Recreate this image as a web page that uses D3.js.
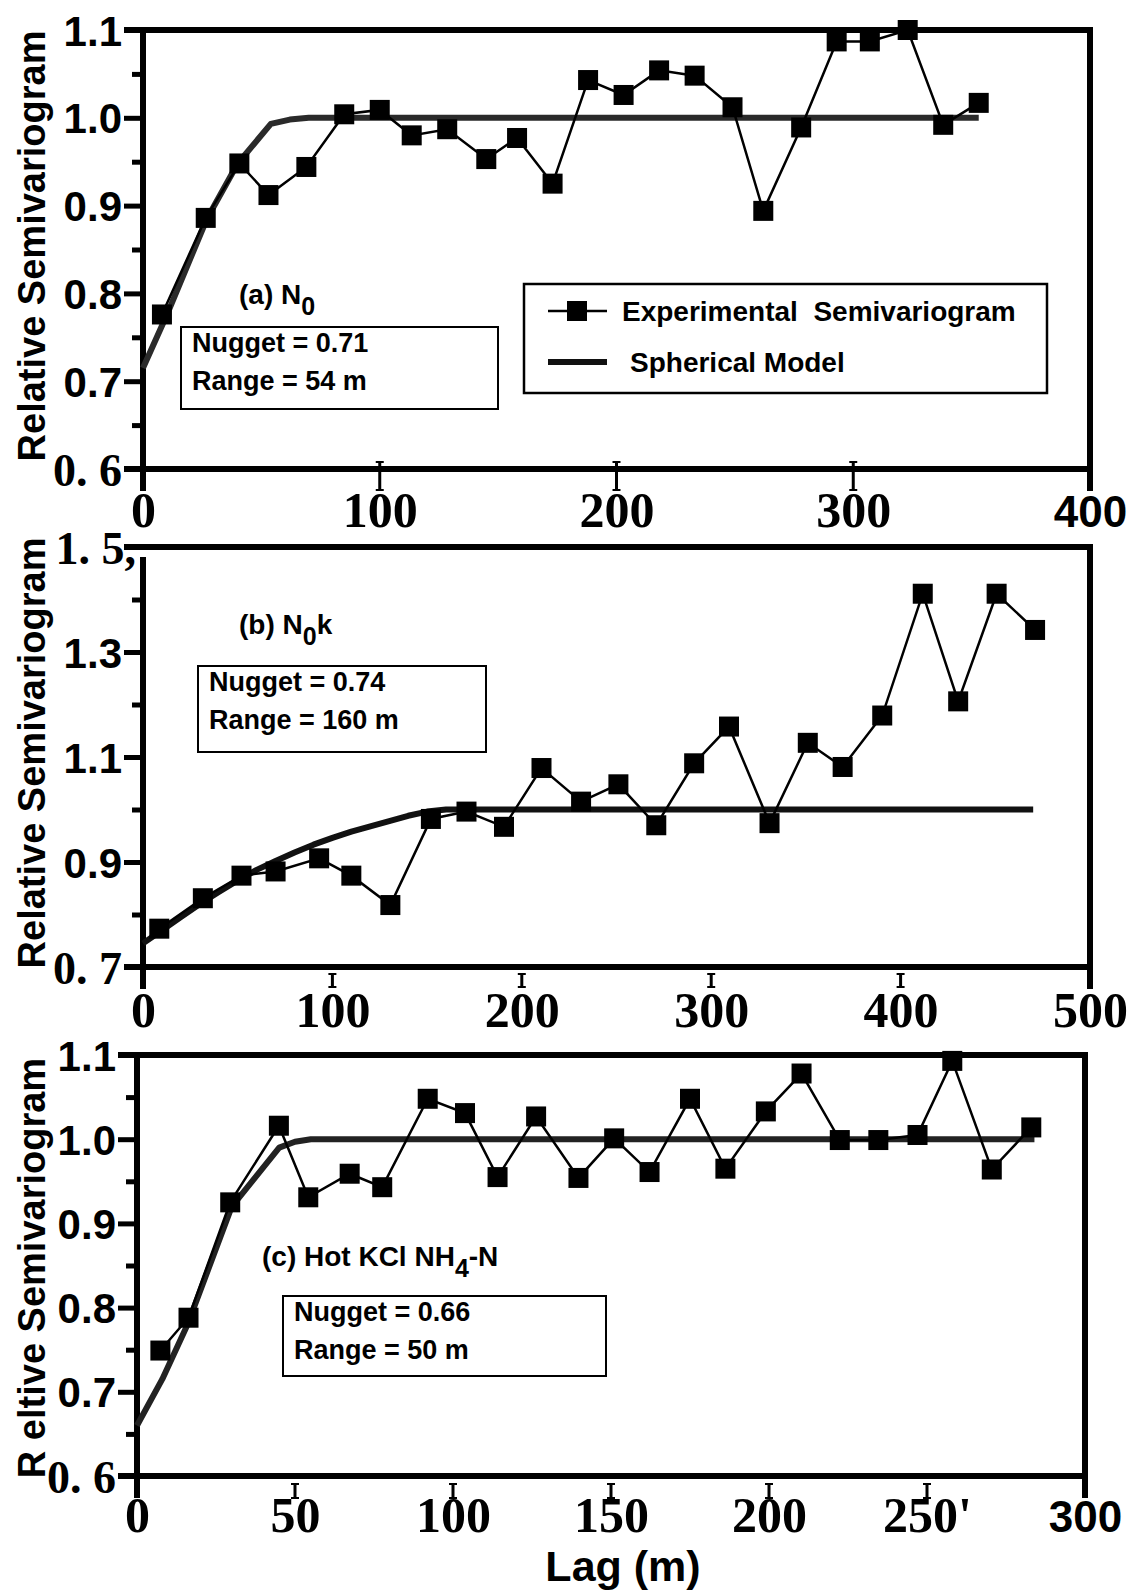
<!doctype html>
<html lang="en">
<head>
<meta charset="UTF-8">
<title>Relative semivariograms</title>
<script src="https://cdn.jsdelivr.net/npm/d3@7"></script>
<style>
    body { margin: 0; background: #fff; }
    svg { display: block; }
    .sans { font-family: "Liberation Sans", Arial, sans-serif; font-weight: bold; }
    .serif { font-family: "Liberation Serif", "Times New Roman", serif; font-weight: bold; }
</style>
</head>
<body>
<script>
var W = 1132, H = 1590;

// (a) N0
var aLag = [8, 26.5, 40.7, 53, 69, 85, 100, 113.5, 128.5, 145, 158, 173, 188, 203, 218, 233, 249, 262, 278, 293, 307, 323, 338, 353];
var aGamma = [0.776, 0.886, 0.948, 0.912, 0.944, 1.004, 1.009, 0.980, 0.987, 0.953, 0.977, 0.925, 1.043, 1.026, 1.054, 1.048, 1.012, 0.894, 0.989, 1.087, 1.087, 1.100, 0.992, 1.017];
var aModelLag = [0, 10, 27, 40, 54, 62, 70, 353];
var aModelGamma = [0.715, 0.775, 0.885, 0.948, 0.993, 0.998, 1.0, 1.0];
var aXTicks = [0, 100, 200, 300, 400];
var aXLabels = ["0", "100", "200", "300", "400"];
var aYTicks = [0.6, 0.7, 0.8, 0.9, 1.0, 1.1];
var aYLabels = ["0. 6", "0.7", "0.8", "0.9", "1.0", "1.1"];
var aYMinor = [0.65, 0.75, 0.85, 0.95, 1.05];

// (b) N0k
var bLag = [8.6, 31.6, 52, 70, 93, 110, 130.6, 152, 170.8, 190.6, 210.4, 231.3, 251, 271, 291, 309.4, 330.8, 351, 369.4, 390.3, 411.7, 430.4, 450.7, 471];
var bGamma = [0.773, 0.831, 0.874, 0.882, 0.907, 0.874, 0.818, 0.982, 0.996, 0.967, 1.079, 1.015, 1.048, 0.970, 1.088, 1.158, 0.974, 1.127, 1.081, 1.179, 1.411, 1.206, 1.411, 1.342];
var bModelLag = [0, 10, 20, 30, 40, 50, 60, 70, 80, 90, 100, 110, 120, 130, 140, 150, 160, 470];
var bModelGamma = [0.745, 0.770, 0.795, 0.820, 0.843, 0.865, 0.885, 0.902, 0.918, 0.933, 0.946, 0.958, 0.968, 0.978, 0.988, 0.996, 1.0, 1.0];
var bXTicks = [0, 100, 200, 300, 400, 500];
var bXLabels = ["0", "100", "200", "300", "400", "500"];
var bYTicks = [0.7, 0.9, 1.1, 1.3, 1.5];
var bYLabels = ["0. 7", "0.9", "1.1", "1.3", "1. 5,"];
var bYMinor = [0.8, 1.0, 1.2, 1.4];

// (c) Hot KCl NH4-N
var cLag = [7.4, 16.3, 29.5, 44.9, 54.2, 67.3, 77.6, 92, 103.8, 114.1, 126.3, 139.7, 151, 162.2, 175, 186.2, 199, 210.3, 222.4, 234.6, 247, 258, 270.5, 283];
var cGamma = [0.749, 0.788, 0.925, 1.016, 0.931, 0.959, 0.943, 1.048, 1.031, 0.955, 1.027, 0.954, 1.001, 0.961, 1.048, 0.965, 1.033, 1.078, 0.999, 0.999, 1.005, 1.093, 0.964, 1.014];
var cModelLag = [0, 8, 16, 30, 45, 50, 55, 284];
var cModelGamma = [0.66, 0.715, 0.78, 0.92, 0.99, 0.997, 1.0, 1.0];
var cXTicks = [0, 50, 100, 150, 200, 250, 300];
var cXLabels = ["0", "50", "100", "150", "200", "250'", "300"];
var cYTicks = [0.6, 0.7, 0.8, 0.9, 1.0, 1.1];
var cYLabels = ["0. 6", "0.7", "0.8", "0.9", "1.0", "1.1"];
var cYMinor = [0.65, 0.75, 0.85, 0.95, 1.05];

var svg = d3.select("body").append("svg")
    .attr("width", W)
    .attr("height", H);

function drawPanel(p) {
    var x = d3.scaleLinear().domain(p.xDom).range([p.left, p.right]);
    var y = d3.scaleLinear().domain(p.yDom).range([p.bottom, p.top]);
    var g = svg.append("g");

    // frame
    var fw = 6;
    g.append("line").attr("x1", p.left - 19).attr("x2", p.right + 3).attr("y1", p.top).attr("y2", p.top);
    g.append("line").attr("x1", p.left - 19).attr("x2", p.right).attr("y1", p.bottom).attr("y2", p.bottom);
    g.append("line").attr("x1", p.left).attr("x2", p.left).attr("y1", p.top + p.leftGap).attr("y2", p.bottom + 22);
    g.append("line").attr("x1", p.right).attr("x2", p.right).attr("y1", p.top).attr("y2", p.bottom + 22);
    g.selectAll("line").attr("stroke", "#000").attr("stroke-width", fw);

    // y ticks
    var yAxis = d3.axisLeft(y).tickValues(p.yTicks).tickSize(19).tickPadding(2)
        .tickFormat(function (d, i) { return p.yLabels[i]; });
    var ya = g.append("g").attr("transform", "translate(" + p.left + ",0)").call(yAxis);
    ya.select(".domain").remove();
    ya.selectAll(".tick line").attr("stroke", "#000").attr("stroke-width", 5);
    ya.selectAll(".tick text")
        .attr("class", function (d, i) { return p.yLabels[i].indexOf(" ") >= 0 ? "serif" : "sans"; })
        .attr("font-size", function (d, i) { return p.yLabels[i].indexOf(" ") >= 0 ? 46 : 42; })
        .attr("fill", "#000")
        .attr("dx", function (d, i) { return p.yLabels[i].slice(-1) === "," ? 14 : 0; })
        .attr("dy", "0.36em");
    var yMinor = d3.axisLeft(y).tickValues(p.yMinor).tickSize(11).tickFormat("");
    var ym = g.append("g").attr("transform", "translate(" + p.left + ",0)").call(yMinor);
    ym.select(".domain").remove();
    ym.selectAll(".tick line").attr("stroke", "#000").attr("stroke-width", 5);

    // x labels
    var xAxis = d3.axisBottom(x).tickValues(p.xTicks).tickSize(0)
        .tickFormat(function (d, i) { return p.xLabels[i]; });
    var xa = g.append("g").attr("transform", "translate(0," + p.bottom + ")").call(xAxis);
    xa.select(".domain").remove();
    xa.selectAll(".tick text")
        .attr("class", function (d, i) { return p.sansLast && i === p.xLabels.length - 1 ? "sans" : "serif"; })
        .attr("font-size", function (d, i) { return p.sansLast && i === p.xLabels.length - 1 ? 44 : 50; })
        .attr("fill", "#000")
        .attr("y", p.xLabelOff)
        .attr("dy", null);

    // small "I" ticks on the x axis
    var inner = p.xTicks.slice(1, -1);
    inner.forEach(function (v) {
        var t = g.append("g").attr("stroke", "#000");
        t.append("line").attr("x1", x(v)).attr("x2", x(v))
            .attr("y1", p.bottom + p.tickOff[0]).attr("y2", p.bottom + p.tickOff[1]).attr("stroke-width", 3);
        t.append("line").attr("x1", x(v) - 4).attr("x2", x(v) + 4)
            .attr("y1", p.bottom + p.tickOff[0]).attr("y2", p.bottom + p.tickOff[0]).attr("stroke-width", 2);
        t.append("line").attr("x1", x(v) - 4).attr("x2", x(v) + 4)
            .attr("y1", p.bottom + p.tickOff[1]).attr("y2", p.bottom + p.tickOff[1]).attr("stroke-width", 2);
    });

    // spherical model
    var line = d3.line().x(function (d) { return x(d[0]); }).y(function (d) { return y(d[1]); });
    g.append("path")
        .datum(d3.zip(p.modelLag, p.modelGamma))
        .attr("d", line)
        .attr("fill", "none")
        .attr("stroke", p.modelColor)
        .attr("stroke-width", 6)
        .attr("stroke-linejoin", "round");

    // experimental semivariogram
    var pts = d3.zip(p.lag, p.gamma);
    g.append("path")
        .datum(pts)
        .attr("d", line)
        .attr("fill", "none")
        .attr("stroke", "#000")
        .attr("stroke-width", 2.5);
    g.selectAll("rect.pt")
        .data(pts)
        .enter()
        .append("rect")
        .attr("class", "pt")
        .attr("x", function (d) { return x(d[0]) - 10; })
        .attr("y", function (d) { return y(d[1]) - 10; })
        .attr("width", 20)
        .attr("height", 20)
        .attr("fill", "#000");

    // y title
    g.append("text")
        .attr("class", "sans")
        .attr("font-size", 38)
        .attr("text-anchor", "middle")
        .attr("transform", "translate(45," + p.titleY + ") rotate(-90)")
        .text(p.yTitle);

    // panel label
    var lab = g.append("text").attr("class", "sans").attr("font-size", 28)
        .attr("x", p.label.x).attr("y", p.label.y);
    p.label.parts.forEach(function (s) {
        var ts = lab.append("tspan").text(s[0]);
        if (s[1]) ts.attr("dy", s[1]);
        if (s[2]) ts.attr("font-size", s[2]);
    });

    // nugget / range box
    var b = p.box;
    g.append("rect").attr("x", b.x).attr("y", b.y).attr("width", b.w).attr("height", b.h)
        .attr("fill", "none").attr("stroke", "#000").attr("stroke-width", 2);
    g.append("text").attr("class", "sans").attr("font-size", 27)
        .attr("x", b.x + 11).attr("y", b.y + 25).text(b.t1);
    g.append("text").attr("class", "sans").attr("font-size", 27)
        .attr("x", b.x + 11).attr("y", b.y + 63).text(b.t2);

    return { x: x, y: y, g: g };
}

drawPanel({
    left: 143, right: 1090, top: 30, bottom: 469, leftGap: 0,
    xDom: [0, 400], yDom: [0.6, 1.1],
    xTicks: aXTicks, xLabels: aXLabels, yTicks: aYTicks, yLabels: aYLabels, yMinor: aYMinor,
    xLabelOff: 58, tickOff: [-7, 21], sansLast: true,
    lag: aLag, gamma: aGamma, modelLag: aModelLag, modelGamma: aModelGamma, modelColor: "#2a2a2a",
    yTitle: "Relative Semivariogram", titleY: 246,
    label: { x: 239, y: 304, parts: [["(a) N"], ["0", 11, 25]] },
    box: { x: 181, y: 327, w: 317, h: 82, t1: "Nugget = 0.71", t2: "Range = 54 m" }
});

drawPanel({
    left: 143, right: 1090, top: 547, bottom: 967, leftGap: 10,
    xDom: [0, 500], yDom: [0.7, 1.5],
    xTicks: bXTicks, xLabels: bXLabels, yTicks: bYTicks, yLabels: bYLabels, yMinor: bYMinor,
    xLabelOff: 60, tickOff: [7, 20], sansLast: false,
    lag: bLag, gamma: bGamma, modelLag: bModelLag, modelGamma: bModelGamma, modelColor: "#111",
    yTitle: "Relative Semivariogram", titleY: 753,
    label: { x: 239, y: 634, parts: [["(b) N"], ["0", 11, 25], ["k", -11, 28]] },
    box: { x: 198, y: 666, w: 288, h: 86, t1: "Nugget = 0.74", t2: "Range = 160 m" }
});

drawPanel({
    left: 137, right: 1085, top: 1055, bottom: 1476, leftGap: 0,
    xDom: [0, 300], yDom: [0.6, 1.1],
    xTicks: cXTicks, xLabels: cXLabels, yTicks: cYTicks, yLabels: cYLabels, yMinor: cYMinor,
    xLabelOff: 56, tickOff: [8, 22], sansLast: true,
    lag: cLag, gamma: cGamma, modelLag: cModelLag, modelGamma: cModelGamma, modelColor: "#222",
    yTitle: "R eltive Semivariogram", titleY: 1268,
    label: { x: 262, y: 1266, parts: [["(c) Hot KCl NH"], ["4", 11, 25], ["-N", -11, 28]] },
    box: { x: 283, y: 1296, w: 323, h: 80, t1: "Nugget = 0.66", t2: "Range = 50 m" }
});

// legend in panel (a)
var leg = svg.append("g");
leg.append("rect").attr("x", 524).attr("y", 284).attr("width", 523).attr("height", 109)
    .attr("fill", "#fff").attr("stroke", "#000").attr("stroke-width", 2.5);
leg.append("line").attr("x1", 548).attr("x2", 607).attr("y1", 311).attr("y2", 311)
    .attr("stroke", "#000").attr("stroke-width", 2.5);
leg.append("rect").attr("x", 567).attr("y", 301).attr("width", 20).attr("height", 20).attr("fill", "#000");
leg.append("text").attr("class", "sans").attr("font-size", 28).attr("x", 622).attr("y", 321)
    .attr("xml:space", "preserve").text("Experimental  Semivariogram");
leg.append("line").attr("x1", 548).attr("x2", 607).attr("y1", 362).attr("y2", 362)
    .attr("stroke", "#111").attr("stroke-width", 6);
leg.append("text").attr("class", "sans").attr("font-size", 28).attr("x", 630).attr("y", 372)
    .text("Spherical Model");

// x title
svg.append("text").attr("class", "sans").attr("font-size", 43)
    .attr("text-anchor", "middle").attr("x", 623).attr("y", 1581)
    .text("Lag (m)");
</script>
</body>
</html>
